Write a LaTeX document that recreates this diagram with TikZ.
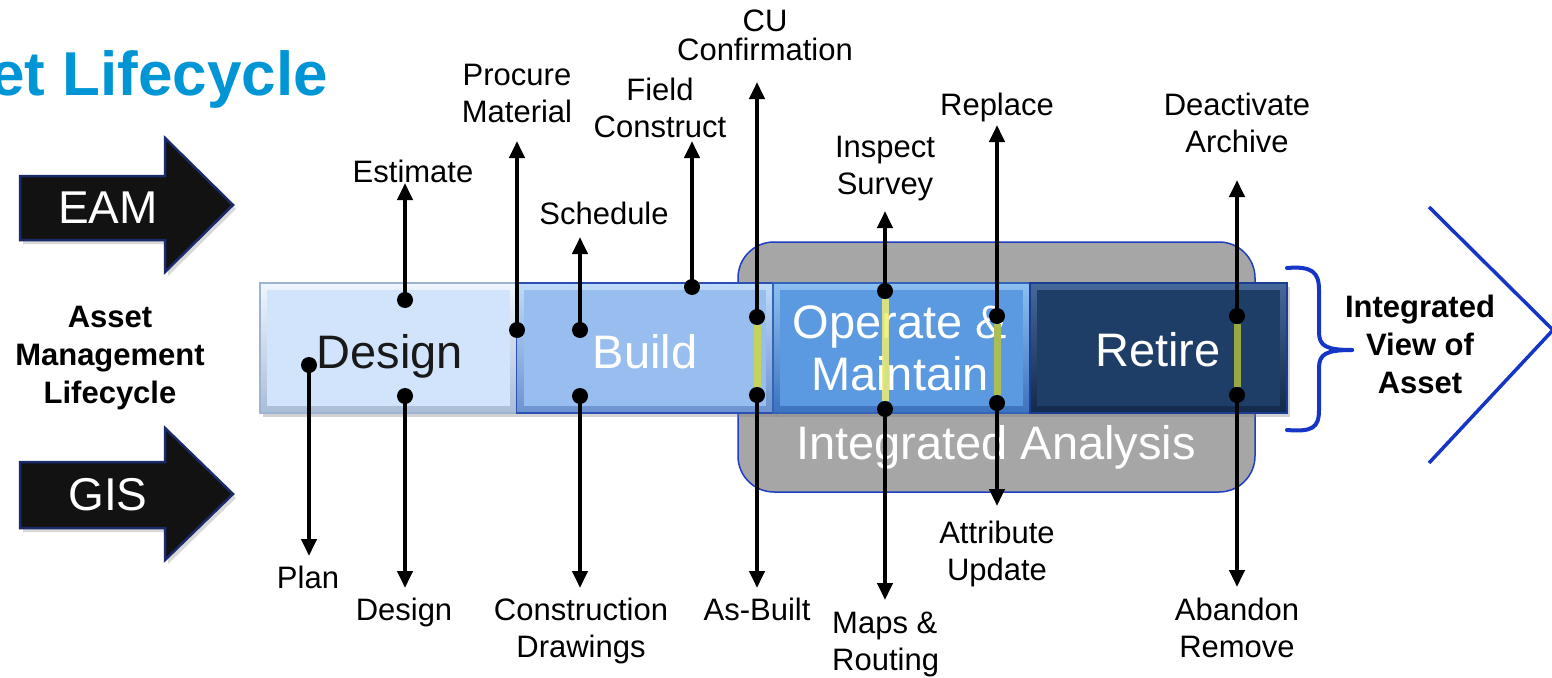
\documentclass[tikz,border=0pt]{standalone}
\usepackage{fontspec}
\setmainfont{Liberation Sans}
\usetikzlibrary{arrows.meta,shadows}
\definecolor{titleblue}{HTML}{0096D6}
\definecolor{braceblue}{HTML}{1535C6}
\definecolor{panelgray}{HTML}{A6A6A6}
\definecolor{segA}{HTML}{C4D35C}
\definecolor{segB}{HTML}{EDEE70}
\definecolor{segC}{HTML}{A9BE55}
\definecolor{segD}{HTML}{98A843}
\definecolor{desTop}{HTML}{EEF5FE}\definecolor{desBot}{HTML}{A9BDD8}\definecolor{desIn}{HTML}{D1E4FB}\definecolor{desBd}{HTML}{9EB3CF}
\definecolor{bldTop}{HTML}{BFDBFA}\definecolor{bldBot}{HTML}{6C93CF}\definecolor{bldIn}{HTML}{98BEF0}\definecolor{bldBd}{HTML}{2B4FB3}
\definecolor{opTop}{HTML}{8CC0F2}\definecolor{opBot}{HTML}{3D72BD}\definecolor{opIn}{HTML}{5B9AE0}\definecolor{opBd}{HTML}{3464B8}
\definecolor{retTop}{HTML}{46689A}\definecolor{retBot}{HTML}{122A4A}\definecolor{retIn}{HTML}{1F3E67}\definecolor{retBd}{HTML}{1B3E94}
\definecolor{arrBd}{HTML}{1B2A6A}
\definecolor{panelBd}{HTML}{1F3FC0}
\newcommand\stk[1]{\begin{tabular}[t]{@{}c@{}}#1\end{tabular}}
\newcommand\stkl[1]{\begin{tabular}[t]{@{}l@{}}#1\end{tabular}}
\begin{document}
\begin{tikzpicture}[x=1pt,y=-1pt,
  lab/.style={font=\fontsize{31}{37}\selectfont, inner sep=0pt, anchor=base},
  sidelab/.style={font=\bfseries\fontsize{31}{38}\selectfont, inner sep=0pt, anchor=base},
  boxtext/.style={font=\fontsize{47}{50}\selectfont, inner sep=0pt, anchor=base, text=white},
  phase/.style={rectangle, inner sep=0pt, minimum width=257pt, minimum height=130pt, line width=1.2pt,
     drop shadow={shadow xshift=3pt, shadow yshift=-4pt, opacity=.35}},
  dot/.style={circle, fill=black, inner sep=0pt, minimum size=16pt},
  arr/.style={line width=4pt, -{Triangle[width=15pt,length=17pt]}},
  seg/.style={line width=7pt},
  bluepen/.style={draw=braceblue, line width=4pt},
  bigarrow/.style={fill=black!93, draw=arrBd, line width=2.5pt,
     drop shadow={shadow xshift=3pt, shadow yshift=-4pt, opacity=.3}}
]
\useasboundingbox (0,0) rectangle (1552,677);
\fill[white] (0,0) rectangle (1552,677);

% title (cut off at the left edge, as in the reference)
\node[font=\bfseries\fontsize{62}{70}\selectfont, text=titleblue, inner sep=0pt, anchor=base west] (title) at (-10,95) {et Lifecycle};

% EAM / GIS arrows
\path[bigarrow] (20,176) -- (165,176) -- (165,138) -- (233,205) -- (165,272) -- (165,240) -- (20,240) -- cycle;
\node[font=\fontsize{46}{50}\selectfont, text=white, inner sep=0pt, anchor=base] (eam) at (108,223) {EAM};
\path[bigarrow] (20,462) -- (165,462) -- (165,428) -- (233,494) -- (165,560) -- (165,528) -- (20,528) -- cycle;
\node[font=\fontsize{46}{50}\selectfont, text=white, inner sep=0pt, anchor=base] (gis) at (108,510) {GIS};

\node[sidelab] (aml) at (110,327) {\stk{Asset\\Management\\Lifecycle}};

% integrated analysis panel
\node[rectangle, rounded corners=36pt, fill=panelgray, draw=panelBd, line width=1.5pt,
      minimum width=517pt, minimum height=250pt, inner sep=0pt] (panel) at (996.5,367) {};
\node[boxtext, text=white] (ia) at (996,459) {Integrated Analysis};

% phase boxes
\node[phase, top color=desTop, bottom color=desBot, draw=desBd] (bdesign) at (388.5,348) {};
\fill[desIn] ([shift={(8,8)}]bdesign.north west) rectangle ([shift={(-8,-8)}]bdesign.south east);
\node[phase, top color=bldTop, bottom color=bldBot, draw=bldBd] (bbuild) at (645,348) {};
\fill[bldIn] ([shift={(8,8)}]bbuild.north west) rectangle ([shift={(-8,-8)}]bbuild.south east);
\node[phase, top color=opTop, bottom color=opBot, draw=opBd] (boperate) at (901.5,348) {};
\fill[opIn] ([shift={(8,8)}]boperate.north west) rectangle ([shift={(-8,-8)}]boperate.south east);
\node[phase, top color=retTop, bottom color=retBot, draw=retBd] (bretire) at (1158.5,348) {};
\fill[retIn] ([shift={(8,8)}]bretire.north west) rectangle ([shift={(-8,-8)}]bretire.south east);

\node[boxtext, text=black!90] (tdesign) at (390,368) {Design};
\node[boxtext] (tbuild) at (645,368) {Build};
\node[boxtext, font=\fontsize{47}{52}\selectfont] (toperate) at (900,338) {\stk{Operate \&\\Maintain}};
\node[boxtext] (tretire) at (1158,366) {Retire};

% brace and chevron
\coordinate (brtop) at (1287,268);
\coordinate (brtip) at (1352,350);
\coordinate (brbot) at (1287,430);
\draw[bluepen, line cap=round] (brtop) .. controls (1312,266) and (1319,272) .. (1319,290) -- (1319,332)
   .. controls (1319,346) and (1326,350) .. (brtip);
\draw[bluepen, line cap=round] (brtip) .. controls (1326,350) and (1319,354) .. (1319,368) -- (1319,410)
   .. controls (1319,428) and (1312,432) .. (brbot);
\node[sidelab] (ivoa) at (1420,317) {\stk{Integrated\\View of\\Asset}};
\coordinate (chtop) at (1429,207);
\coordinate (chtip) at (1553,330);
\coordinate (chbot) at (1429,463);
\draw[draw=braceblue, line width=3.5pt] (chtop) -- (chtip) -- (chbot);

% dots
\node[dot] (dplan) at (309,365) {};
\node[dot] (dest) at (405,300) {};
\node[dot] (ddes) at (405,396) {};
\node[dot] (dproc) at (517,330) {};
\node[dot] (dsched) at (580,330) {};
\node[dot] (dcons) at (580,396) {};
\node[dot] (dfield) at (692,287) {};
\node[dot] (dcu) at (757,317) {};
\node[dot] (dasb) at (757,395) {};
\node[dot] (dinsp) at (885,291) {};
\node[dot] (dmaps) at (885,409) {};
\node[dot] (drepl) at (997,316) {};
\node[dot] (dattr) at (997,403) {};
\node[dot] (ddeac) at (1237,316) {};
\node[dot] (daban) at (1237,395) {};

% coloured segments between dots
\draw[seg, segA] (dcu) -- (dasb);
\draw[seg, segB, opacity=.85] (dinsp) -- (dmaps);
\draw[seg, segC] (drepl) -- (dattr);
\draw[seg, segD] (ddeac) -- (daban);

% arrow tips
\coordinate (tplan) at (309,556);
\coordinate (test) at (405,183);
\coordinate (tdes) at (405,588);
\coordinate (tproc) at (517,141);
\coordinate (tsched) at (580,237);
\coordinate (tcons) at (580,588);
\coordinate (tfield) at (692,141);
\coordinate (tcu) at (757,82);
\coordinate (tasb) at (757,588);
\coordinate (tinsp) at (885,211);
\coordinate (tmaps) at (885,600);
\coordinate (trepl) at (997,125);
\coordinate (tattr) at (997,506);
\coordinate (tdeac) at (1237,180);
\coordinate (taban) at (1237,587);

\draw[arr] (dplan.center) -- (tplan);
\draw[arr] (dest.center) -- (test);
\draw[arr] (ddes.center) -- (tdes);
\draw[arr] (dproc.center) -- (tproc);
\draw[arr] (dsched.center) -- (tsched);
\draw[arr] (dcons.center) -- (tcons);
\draw[arr] (dfield.center) -- (tfield);
\draw[arr] (dcu.center) -- (tcu);
\draw[arr] (dasb.center) -- (tasb);
\draw[arr] (dinsp.center) -- (tinsp);
\draw[arr] (dmaps.center) -- (tmaps);
\draw[arr] (drepl.center) -- (trepl);
\draw[arr] (dattr.center) -- (tattr);
\draw[arr] (ddeac.center) -- (tdeac);
\draw[arr] (daban.center) -- (taban);

% labels
\node[lab] (lest) at (413,182) {Estimate};
\node[lab] (lproc) at (517,85) {\stk{Procure\\Material}};
\node[lab] (lsched) at (604,224) {Schedule};
\node[lab] (lfield) at (660,100) {\stk{Field\\Construct}};
\node[lab] (lcu) at (765,32) {\renewcommand\arraystretch{0.5}\stk{CU\\Confirmation}};
\node[lab] (linsp) at (885,157) {\stk{Inspect\\Survey}};
\node[lab] (lrepl) at (997,115) {Replace};
\node[lab] (ldeac) at (1237,115) {\stk{Deactivate\\Archive}};
\node[lab] (lplan) at (308,588) {Plan};
\node[lab] (ldes) at (404,620) {Design};
\node[lab] (lcons) at (581,620) {\stk{Construction\\Drawings}};
\node[lab] (lasb) at (757,620) {As-Built};
\node[lab, anchor=base west] (lmaps) at (832,633) {\stkl{Maps \&\\Routing}};
\node[lab] (lattr) at (997,543) {\stk{Attribute\\Update}};
\node[lab] (laban) at (1237,620) {\stk{Abandon\\Remove}};
\end{tikzpicture}
\end{document}
